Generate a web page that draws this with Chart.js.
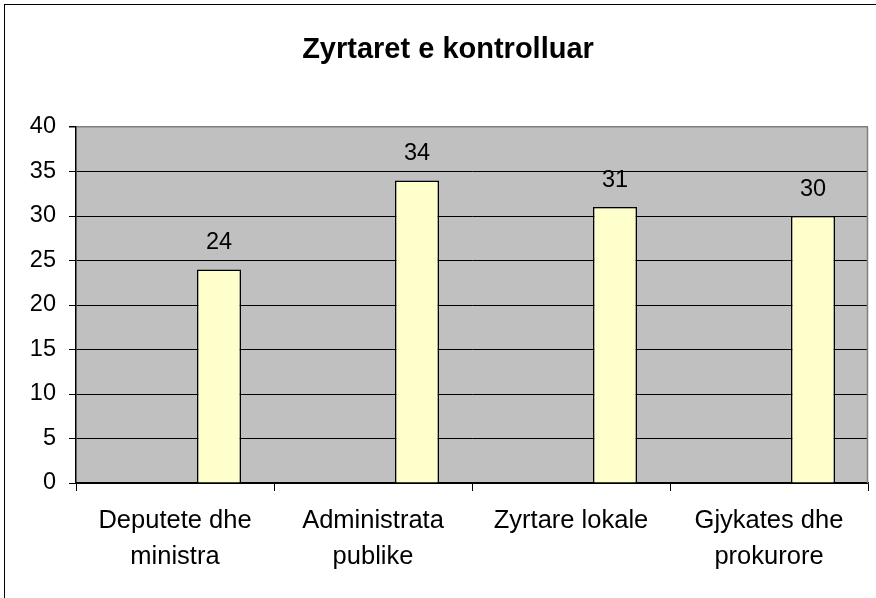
<!DOCTYPE html>
<html>
<head>
<meta charset="utf-8">
<script src="https://cdn.jsdelivr.net/npm/chart.js@4"></script>
<style>
  html, body { margin: 0; padding: 0; background: #fff; overflow: hidden; }
  #wrap { position: relative; width: 876px; height: 598px; }
  #frame { position: absolute; left: 4px; top: 4px; width: 1000px; height: 1000px;
           border-left: 1px solid #000; border-top: 1px solid #000; pointer-events: none; }
  canvas { position: absolute; left: 0; top: 0; }
</style>
</head>
<body>
<div id="wrap">
  <canvas id="c" width="876" height="598"></canvas>
  <div id="frame"></div>
</div>
<script>
const titleText = "Zyrtaret e kontrolluar";
const categories = [["Deputete dhe", "ministra"], ["Administrata", "publike"], "Zyrtare lokale", ["Gjykates dhe", "prokurore"]];
const values = [24, 34, 31, 30];
const emptyValues = [null, null, null, null];
const yTicks = { min: 0, max: 40, step: 5 };

const FONT = "'Liberation Sans', Arial, sans-serif";

const plotBg = {
  id: 'plotBg',
  beforeDraw(chart) {
    const a = chart.chartArea, ctx = chart.ctx;
    ctx.save();
    ctx.fillStyle = '#C0C0C0';
    ctx.fillRect(a.left, a.top, a.right - a.left, a.bottom - a.top);
    ctx.restore();
  },
  afterDraw(chart) {
    const a = chart.chartArea, ctx = chart.ctx;
    ctx.save();
    ctx.strokeStyle = '#808080';
    ctx.lineWidth = 1.5;
    ctx.beginPath();
    ctx.moveTo(a.right - 0.5, a.top);
    ctx.lineTo(a.right - 0.5, a.bottom);
    ctx.stroke();
    // chart title
    ctx.font = "bold 29px " + FONT;
    ctx.fillStyle = '#000';
    ctx.textAlign = 'center';
    ctx.textBaseline = 'middle';
    ctx.fillText(titleText, 448, 50);
    ctx.restore();
  }
};

const dataLabels = {
  id: 'dataLabels',
  afterDatasetsDraw(chart) {
    const ctx = chart.ctx;
    const meta = chart.getDatasetMeta(2);
    ctx.save();
    ctx.font = "23.5px " + FONT;
    ctx.fillStyle = '#000';
    ctx.textAlign = 'center';
    ctx.textBaseline = 'alphabetic';
    meta.data.forEach((bar, i) => {
      ctx.fillText(String(values[i]), bar.x, bar.y - 20);
    });
    ctx.restore();
  }
};

new Chart(document.getElementById('c'), {
  type: 'bar',
  data: {
    labels: categories,
    datasets: [
      { data: emptyValues, backgroundColor: '#9999FF', borderColor: '#000', borderWidth: 1 },
      { data: emptyValues, backgroundColor: '#993366', borderColor: '#000', borderWidth: 1 },
      { data: values, backgroundColor: '#FFFFCC', borderColor: '#000', borderWidth: 1.5 }
    ]
  },
  options: {
    responsive: false,
    animation: false,
    devicePixelRatio: 1,
    datasets: { bar: { categoryPercentage: 2 / 3, barPercentage: 1 } },
    layout: { padding: { left: 0, right: 8, top: 127, bottom: 0 } },
    plugins: {
      legend: { display: false },
      tooltip: { enabled: false },
      title: { display: false }
    },
    scales: {
      x: {
        offset: true,
        grid: { offset: true, drawOnChartArea: false, drawTicks: true, tickLength: 8, color: '#000', lineWidth: 1 },
        border: { display: true, color: '#000', width: 1.5 },
        ticks: { color: '#000', font: { family: FONT, size: 25.5, lineHeight: 1.4 }, padding: 12, maxRotation: 0, autoSkip: false },
        afterFit(scale) { scale.height = 115; }
      },
      y: {
        min: yTicks.min,
        max: yTicks.max,
        grid: {
          color: (c) => (c.tick && c.tick.value === yTicks.max ? '#808080' : '#000'),
          lineWidth: (c) => (c.tick && c.tick.value === yTicks.max ? 1.5 : 1),
          tickLength: 7,
          tickColor: '#000'
        },
        border: { display: true, color: '#000', width: 1.5 },
        ticks: { stepSize: yTicks.step, color: '#000', font: { family: FONT, size: 23.5 }, padding: 13 },
        afterFit(scale) { scale.width = 76; }
      }
    }
  },
  plugins: [plotBg, dataLabels]
});
</script>
</body>
</html>
